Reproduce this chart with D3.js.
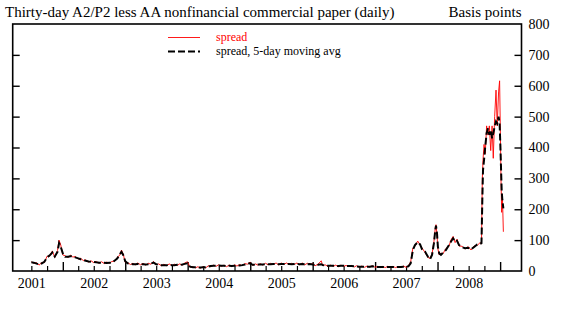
<!DOCTYPE html>
<html>
<head>
<meta charset="utf-8">
<script src="https://cdn.jsdelivr.net/npm/d3@7"></script>
<style>
  html, body { margin: 0; padding: 0; background: #fff; }
  svg { display: block; }
  text { font-family: "Liberation Serif", "Times New Roman", serif; fill: #000; }
</style>
</head>
<body>
<svg id="chart" width="571" height="322"></svg>
<script>
// ---- data ----
const dates = [
"2001-07-01","2001-07-15","2001-08-01","2001-08-15","2001-09-01","2001-09-15","2001-10-01","2001-10-15","2001-11-01","2001-11-15","2001-12-01","2001-12-10","2001-12-20",
"2002-01-01","2002-01-15","2002-02-01","2002-02-15","2002-03-01","2002-03-15","2002-04-01","2002-04-15","2002-05-01","2002-05-15","2002-06-01","2002-06-15","2002-07-01","2002-07-15","2002-08-01","2002-08-15","2002-09-01","2002-09-15","2002-10-01","2002-10-15","2002-11-01","2002-11-15","2002-12-01","2002-12-10","2002-12-20",
"2003-01-01","2003-01-15","2003-02-01","2003-02-15","2003-03-01","2003-03-15","2003-04-01","2003-04-15","2003-05-01","2003-05-15","2003-06-01","2003-06-15","2003-07-01","2003-07-15","2003-08-01","2003-08-15","2003-09-01","2003-09-15","2003-10-01","2003-10-15","2003-11-01","2003-11-15","2003-12-01","2003-12-15","2003-12-31",
"2004-01-15","2004-02-01","2004-02-15","2004-03-01","2004-03-15","2004-04-01","2004-04-15","2004-05-01","2004-05-15","2004-06-01","2004-06-15","2004-07-01","2004-07-15","2004-08-01","2004-08-15","2004-09-01","2004-09-15","2004-10-01","2004-10-15","2004-11-01","2004-11-15","2004-12-01","2004-12-15","2004-12-31",
"2005-01-15","2005-02-01","2005-02-15","2005-03-01","2005-03-15","2005-04-01","2005-04-15","2005-05-01","2005-05-15","2005-06-01","2005-06-15","2005-07-01","2005-07-15","2005-08-01","2005-08-15","2005-09-01","2005-09-15","2005-10-01","2005-10-15","2005-11-01","2005-11-15","2005-12-01","2005-12-15",
"2006-01-01","2006-01-15","2006-02-01","2006-02-20","2006-03-01","2006-03-15","2006-04-01","2006-04-15","2006-05-01","2006-05-15","2006-06-01","2006-06-15","2006-07-01","2006-07-15","2006-08-01","2006-08-15","2006-09-01","2006-09-15","2006-10-01","2006-10-15","2006-11-01","2006-11-15","2006-12-01","2006-12-15",
"2007-01-01","2007-01-15","2007-02-01","2007-02-15","2007-03-01","2007-03-15","2007-04-01","2007-04-15","2007-05-01","2007-05-15","2007-06-01","2007-06-15","2007-07-01","2007-07-15","2007-07-28","2007-08-10","2007-08-22","2007-09-07","2007-09-21","2007-10-02","2007-10-20","2007-11-06","2007-11-18","2007-11-30","2007-12-11","2007-12-19","2007-12-23","2007-12-29",
"2008-01-03","2008-01-11","2008-01-21","2008-02-02","2008-02-19","2008-03-08","2008-03-19","2008-04-01","2008-04-13","2008-04-24","2008-05-06","2008-05-24","2008-06-10","2008-06-28","2008-07-15","2008-08-02","2008-08-20","2008-09-06","2008-09-14","2008-09-19","2008-09-23","2008-09-29","2008-10-06","2008-10-14","2008-10-22","2008-10-30","2008-11-07","2008-11-15","2008-11-22","2008-11-30","2008-12-08","2008-12-15","2008-12-23","2008-12-29",
"2009-01-02","2009-01-06","2009-01-10","2009-01-14","2009-01-20"
];

// spread, 5-day moving average (basis points)
const movingAvg = [
28,27,24,21,25,30,44,50,60,47,62,90,78,
57,46,46,48,47,44,41,38,36,33,31,30,29,28,27,27,27,26,27,27,34,40,55,62,52,
32,25,23,22,22,23,22,22,21,22,24,27,22,20,19,19,19,20,19,19,20,20,21,23,25,
14,12,12,12,11,12,12,14,16,17,17,18,17,17,16,17,16,17,18,18,19,21,24,25,
20,20,21,21,21,22,22,22,23,23,22,23,23,23,23,22,23,23,22,23,22,22,23,
21,19,20,22,19,18,17,17,17,17,16,17,17,16,16,16,15,15,14,14,14,14,14,15,
14,13,13,13,13,13,13,13,13,13,13,14,14,15,25,68,84,93,86,71,63,46,38,52,90,133,147,122,
79,57,52,59,68,84,95,106,95,98,84,77,74,75,70,78,86,88,90,230,327,360,403,446,462,441,457,430,446,467,484,478,500,478,
414,338,262,230,203
];

// spread (basis points)
const spread = [
30,25,27,19,28,27,48,47,65,44,66,100,84,
52,49,44,51,45,47,39,41,34,36,29,33,27,31,25,30,24,29,25,31,32,44,52,68,55,
28,27,21,25,20,26,20,25,19,25,22,31,20,23,17,22,17,23,17,22,18,23,19,26,30,
12,14,10,14,9,14,10,17,14,19,15,20,15,19,14,19,14,20,16,21,17,24,22,29,
18,23,19,24,19,25,20,25,21,26,20,26,21,26,21,25,21,26,20,26,20,25,21,
24,17,22,33,17,20,15,19,15,19,14,19,15,18,14,18,13,17,12,16,12,16,12,17,
12,15,11,15,11,15,11,15,11,15,11,16,12,17,30,75,80,97,84,75,60,44,41,55,95,140,150,118,
72,52,58,56,73,80,100,112,92,103,81,80,71,79,68,81,83,92,88,300,360,410,380,470,440,470,390,470,365,500,586,470,580,616,
470,300,190,250,127
];

const yTicks = [0, 100, 200, 300, 400, 500, 600, 700, 800];
const yearLabels = ["2001","2002","2003","2004","2005","2006","2007","2008"];

// ---- layout ----
const svg = d3.select("#chart");
const parse = d3.timeParse("%Y-%m-%d");
const L = 12.7, R = 521.5, T = 24, B = 271;

const x = d3.scaleTime()
  .domain([parse("2001-03-14"), parse("2009-05-06")])
  .range([L, R]);
const y = d3.scaleLinear().domain([0, 800]).range([B, T]);

const rows = dates.map((d, i) => ({ date: parse(d), ma: movingAvg[i], sp: spread[i] }));

// ---- axes ----
// quarterly minor ticks and yearly major ticks on bottom axis (pointing inward)
const quarterTicks = d3.timeMonth.every(3).range(parse("2001-07-01"), parse("2009-01-02"));
const yearTicks = quarterTicks.filter(d => d.getMonth() === 0);
const minorTicks = quarterTicks.filter(d => d.getMonth() !== 0);

svg.append("g").attr("transform", `translate(0,${B})`)
  .call(d3.axisBottom(x).tickValues(minorTicks).tickSize(-5).tickFormat(""))
  .call(g => g.select(".domain").remove())
  .call(g => g.selectAll("line").attr("stroke", "#000").attr("stroke-width", 1.2));

svg.append("g").attr("transform", `translate(0,${B})`)
  .call(d3.axisBottom(x).tickValues(yearTicks).tickSize(-9).tickFormat(""))
  .call(g => g.select(".domain").remove())
  .call(g => g.selectAll("line").attr("stroke", "#000").attr("stroke-width", 1.4));

// year labels centred at mid-year
svg.append("g").attr("transform", `translate(0,${B})`)
  .call(d3.axisBottom(x)
    .tickValues(yearLabels.map(s => parse(s + "-07-01")))
    .tickSize(0).tickPadding(7)
    .tickFormat(d3.timeFormat("%Y")))
  .call(g => g.select(".domain").remove())
  .call(g => g.selectAll("text").attr("font-size", 14).attr("font-family", "Liberation Serif, serif"));

// right axis with labels
svg.append("g").attr("transform", `translate(${R},0)`)
  .call(d3.axisRight(y).tickValues(yTicks.slice(1, -1)).tickSize(-7).tickFormat(""))
  .call(g => g.select(".domain").remove())
  .call(g => g.selectAll("line").attr("stroke", "#000").attr("stroke-width", 1.4));

svg.append("g").attr("transform", `translate(${R},0)`)
  .call(d3.axisRight(y).tickValues(yTicks).tickSize(0).tickPadding(7).tickFormat(d3.format("d")))
  .call(g => g.select(".domain").remove())
  .call(g => g.selectAll("text").attr("font-size", 14).attr("font-family", "Liberation Serif, serif"));

// left axis ticks
svg.append("g").attr("transform", `translate(${L},0)`)
  .call(d3.axisLeft(y).tickValues(yTicks.slice(1, -1)).tickSize(-7).tickFormat(""))
  .call(g => g.select(".domain").remove())
  .call(g => g.selectAll("line").attr("stroke", "#000").attr("stroke-width", 1.4));

// ---- lines ----
const lineSp = d3.line().x(d => x(d.date)).y(d => y(d.sp));
const lineMa = d3.line().x(d => x(d.date)).y(d => y(d.ma));

svg.append("path").datum(rows)
  .attr("d", lineSp).attr("fill", "none")
  .attr("stroke", "#ff0000").attr("stroke-width", 0.9);

svg.append("path").datum(rows)
  .attr("d", lineMa).attr("fill", "none")
  .attr("stroke", "#000").attr("stroke-width", 2)
  .attr("stroke-dasharray", "7,3");

// ---- frame ----
svg.append("rect")
  .attr("x", L).attr("y", T).attr("width", R - L).attr("height", B - T)
  .attr("fill", "none").attr("stroke", "#000").attr("stroke-width", 1.6);

// ---- titles ----
svg.append("text").attr("x", 5).attr("y", 17).attr("font-size", 15)
  .text("Thirty-day A2/P2 less AA nonfinancial commercial paper (daily)");
svg.append("text").attr("x", R).attr("y", 17).attr("font-size", 15)
  .attr("text-anchor", "end").text("Basis points");

// ---- legend ----
const legend = [
  { label: "spread", color: "#ff0000", width: 0.9, dash: null, textColor: "#ff0000", y: 37.5 },
  { label: "spread, 5-day moving avg", color: "#000", width: 2, dash: "7,3", textColor: "#000", y: 51.5 }
];
const lg = svg.append("g");
legend.forEach(item => {
  lg.append("line").attr("x1", 168).attr("x2", 200).attr("y1", item.y).attr("y2", item.y)
    .attr("stroke", item.color).attr("stroke-width", item.width)
    .attr("stroke-dasharray", item.dash);
  lg.append("text").attr("x", 216).attr("y", item.y + 3.5).attr("font-size", 12)
    .style("fill", item.textColor).text(item.label);
});
</script>
</body>
</html>
